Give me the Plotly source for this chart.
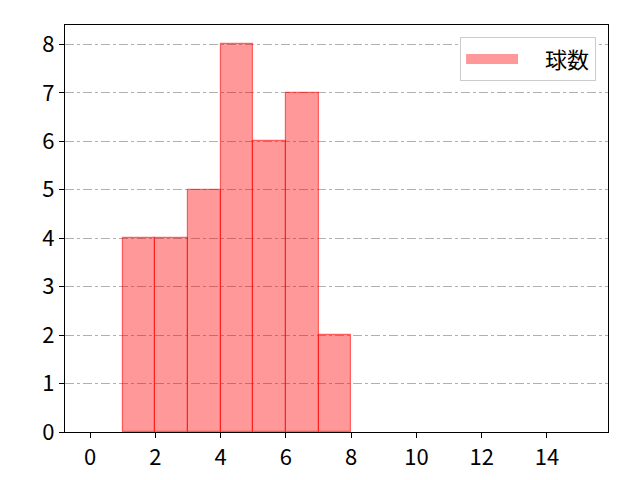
import plotly.graph_objects as go

# bin left edges and counts
bin_left = [1, 2, 3, 4, 5, 6, 7]
counts = [4, 4, 5, 8, 6, 7, 2]
x_ticks = [0, 2, 4, 6, 8, 10, 12, 14]
y_ticks = [0, 1, 2, 3, 4, 5, 6, 7, 8]

centers = [b + 0.5 for b in bin_left]

fig = go.Figure()
fig.add_trace(go.Bar(
    x=centers, y=counts, width=1, name="球数",
    marker=dict(color="rgba(255,0,0,0.4)", line=dict(color="rgba(255,0,0,0.55)", width=1.2)),
    showlegend=False,
))
# legend entry drawn as a wide patch
fig.add_trace(go.Scatter(
    x=[None], y=[None], mode="lines", name="\u2003球数",
    line=dict(color="rgba(255,0,0,0.4)", width=15),
))

fig.update_layout(
    width=640, height=480,
    margin=dict(l=57, r=40, t=17, b=56),
    plot_bgcolor="white", paper_bgcolor="white",
    font=dict(family="Noto Sans CJK JP, DejaVu Sans", size=22, color="black"),
    bargap=0,
    legend=dict(x=0.978, y=0.97, xanchor="right", yanchor="top",
                bordercolor="#cccccc", borderwidth=1, bgcolor="white",
                font=dict(size=22), itemwidth=52),
    showlegend=True,
)
fig.update_xaxes(range=[-0.77, 15.87], tickvals=x_ticks, showgrid=False,
                 showline=True, linecolor="black", linewidth=1.2, mirror=True,
                 ticks="outside", ticklen=5, tickcolor="black", zeroline=False)
fig.update_yaxes(range=[0, 8.4], tickvals=y_ticks, showgrid=True,
                 gridcolor="#b0b0b0", griddash="dashdot", gridwidth=1,
                 showline=True, linecolor="black", linewidth=1.2, mirror=True,
                 ticks="outside", ticklen=5, tickcolor="black", zeroline=False,
                 layer="above traces")

fig.write_html("out.html")
